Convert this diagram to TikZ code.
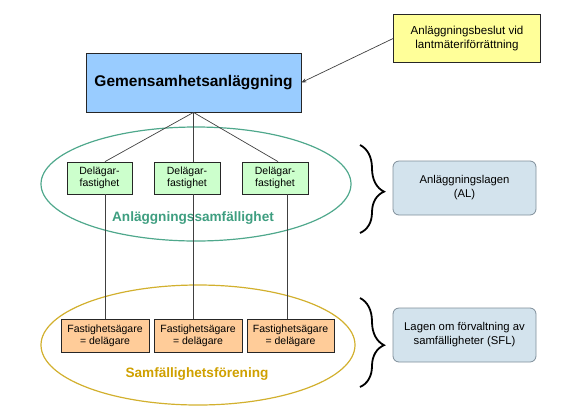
\documentclass[tikz,border=0pt]{standalone}
\usepackage{fontspec}
\setmainfont{Liberation Sans}
\usetikzlibrary{shapes.geometric,arrows.meta,decorations.pathreplacing}
\definecolor{bluefill}{HTML}{99CCFF}
\definecolor{yellowfill}{HTML}{FFFF99}
\definecolor{greenfill}{HTML}{CCFFCC}
\definecolor{orangefill}{HTML}{FFCC99}
\definecolor{greenline}{HTML}{4FA88C}
\definecolor{goldline}{HTML}{D2B02E}
\definecolor{greentext}{HTML}{3E9E80}
\definecolor{goldtext}{HTML}{CFA000}
\definecolor{lawfill}{HTML}{D3E3ED}
\definecolor{lawline}{HTML}{7F8E9A}
\begin{document}
\begin{tikzpicture}[x=1pt,y=-1pt,
  box/.style={draw=black!85, line width=0.8pt, inner sep=0pt, align=center},
  smalltext/.style={font=\fontsize{10.5}{12}\selectfont},
  lawbox/.style={draw=lawline, fill=lawfill, rounded corners=6pt, line width=0.8pt,
     minimum width=143, minimum height=54, align=center, inner sep=0pt,
     font=\fontsize{11.3}{14}\selectfont},
  conn/.style={draw=black!75, line width=0.7pt},
  bracestyle/.style={decorate, decoration={brace, amplitude=24pt, aspect=0.53}, line width=1.8pt},
  ell/.style={ellipse, draw, line width=1.2pt, inner sep=0pt}]
\useasboundingbox (0,0) rectangle (573,416);
% ellipses
\node[ell, draw=greenline, minimum width=310, minimum height=114] (ge) at (196,184) {};
\node[ell, draw=goldline, minimum width=314, minimum height=120] (oe) at (198,345) {};
% boxes
\node[box, fill=bluefill, minimum width=215, minimum height=59,
  font=\bfseries\fontsize{15.5}{17}\selectfont] (blue) at (193.5,82.5) {Gemensamhetsanläggning};
\node[box, fill=yellowfill, minimum width=147, minimum height=48,
  font=\fontsize{11.6}{14}\selectfont] (yel) at (467,38.5) {Anläggningsbeslut vid\\lantmäteriförrättning};
\node[box, fill=greenfill, minimum width=65, minimum height=32, smalltext] (g1) at (99.5,178) {Delägar-\\fastighet};
\node[box, fill=greenfill, minimum width=66, minimum height=32, smalltext] (g2) at (187,178) {Delägar-\\fastighet};
\node[box, fill=greenfill, minimum width=66, minimum height=32, smalltext] (g3) at (275,178) {Delägar-\\fastighet};
\node[box, fill=orangefill, minimum width=88, minimum height=33, smalltext] (o1) at (105,335.5) {Fastighetsägare\\= delägare};
\node[box, fill=orangefill, minimum width=88, minimum height=33, smalltext] (o2) at (198,335.5) {Fastighetsägare\\= delägare};
\node[box, fill=orangefill, minimum width=87, minimum height=33, smalltext] (o3) at (290.5,335.5) {Fastighetsägare\\= delägare};
% labels
\node[text=greentext, font=\bfseries\fontsize{13.6}{15}\selectfont] (gl) at (193,218) {Anläggningssamfällighet};
\node[text=goldtext, font=\bfseries\fontsize{13.6}{15}\selectfont] (ol) at (197,374) {Samfällighetsförening};
% connectors
\draw[conn] (blue.south) -- (o1.north |- g1.north);
\draw[conn] (blue.south) -- (g2.north -| blue.south);
\draw[conn] (blue.south) -- ([xshift=3pt]g3.north);
\draw[conn] (o1.north |- g1.south) -- (o1.north);
\draw[conn] (g2.south -| blue.south) -- (o2.north -| blue.south);
\draw[conn] ([xshift=12pt]g3.south) -- ([xshift=12pt]g3.south |- o3.north);
\draw[conn, -{Stealth[length=5pt,width=4pt]}] (yel.west) -- (blue.east);
% braces and law boxes
\coordinate (b1a) at (360,145);
\coordinate (b1b) at (360,233);
\coordinate (b2a) at (360,298);
\coordinate (b2b) at (360,387);
\draw[bracestyle] (b1a) -- (b1b);
\draw[bracestyle] (b2a) -- (b2b);
\node[lawbox] (al) at (464.5,188) {Anläggningslagen\\(AL)};
\node[lawbox] (sfl) at (464.5,335) {Lagen om förvaltning av\\samfälligheter (SFL)};
\end{tikzpicture}
\end{document}
